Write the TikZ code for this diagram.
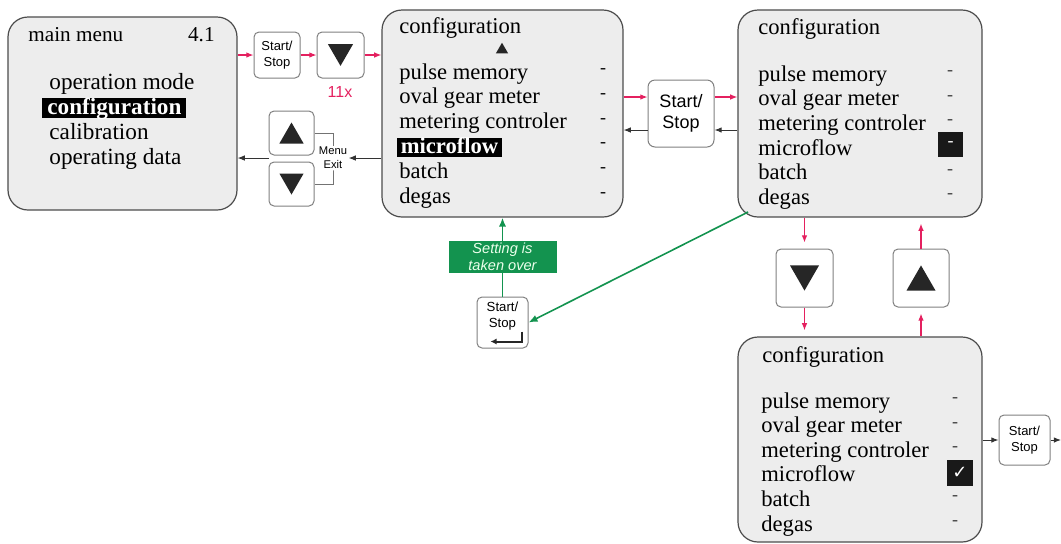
\documentclass[tikz,border=0pt]{standalone}
\usepackage{fontspec}
\setmainfont{Liberation Serif}
\setsansfont{Liberation Sans}
\newfontfamily\symfont{DejaVu Sans}
\usetikzlibrary{shapes.geometric, arrows.meta, positioning}

\begin{document}
\begin{tikzpicture}[x=0.5pt, y=-0.5pt,
  panel/.style={draw=black!70, fill=black!7, line width=0.6pt, rounded corners=10pt, inner sep=0pt},
  btn/.style={draw=black!50, fill=white, line width=0.5pt, rounded corners=2.5pt, inner sep=0pt, align=center, font=\sffamily\fontsize{6.5}{8.2}\selectfont},
  item/.style={anchor=base west, inner sep=0pt, font=\fontsize{11.3}{13}\selectfont},
  hilite/.style={item, fill=black, text=white, font=\bfseries\fontsize{11.3}{13}\selectfont, text height=7pt, text depth=1.5pt, inner xsep=1.7pt, inner ysep=0.5pt},
  dashmark/.style={inner sep=0pt, font=\fontsize{9}{10}\selectfont},
  tridown/.style={regular polygon, regular polygon sides=3, shape border rotate=180, fill=black!85, inner sep=0pt, minimum size=#1, yshift=0.125*#1},
  triup/.style={regular polygon, regular polygon sides=3, fill=black!85, inner sep=0pt, minimum size=#1, yshift=-0.125*#1},
  tip/.style={-{Latex[length=3.6pt, width=2.8pt]}},
  redarrow/.style={draw=menured, line width=0.6pt, tip},
  blkarrow/.style={draw=black!80, line width=0.5pt, tip},
  grnarrow/.style={draw=setgreen, line width=0.8pt, -{Latex[length=4.5pt, width=3.6pt]}}]
  \definecolor{menured}{HTML}{E4205F}
  \definecolor{setgreen}{HTML}{13934F}

  \useasboundingbox (0,0) rectangle (1061,543);

  % main menu
  \node[panel, minimum width=114.5pt, minimum height=96.5pt] (menu) at (122.5,113.5) {};
  \node[item, font=\fontsize{10.6}{12}\selectfont] (mtitle) at (28,41) {main menu};
  \node[item, anchor=base east, font=\fontsize{10.6}{12}\selectfont] (mnum) at (215,41) {4.1};
  \node[item, font=\fontsize{11.6}{13}\selectfont] (m-op) at (49,89) {operation mode};
  \node[hilite, font=\bfseries\fontsize{11.6}{13}\selectfont, text height=7.9pt, text depth=1.1pt, inner xsep=2.5pt] (m-cf) at (42,114.5) {configuration};
  \node[item, font=\fontsize{11.6}{13}\selectfont] (m-ca) at (49,139) {calibration};
  \node[item, font=\fontsize{11.6}{13}\selectfont] (m-od) at (49,164) {operating data};

  % keys between main menu and configuration
  \node[btn, minimum width=23pt, minimum height=23pt] (ssA) at (277,55) {Start/\\Stop};
  \node[btn, minimum width=23.5pt, minimum height=23pt] (dnA) at (340.5,55) {};
  \node[tridown=14.5pt] (dnA-t) at (dnA) {};
  \node[text=menured, font=\sffamily\fontsize{8}{9}\selectfont] (cnt) at (340,92) {11x};
  \node[btn, minimum width=22.5pt, minimum height=22pt] (upB) at (291.5,133) {};
  \node[triup=14pt] (upB-t) at (upB) {};
  \node[btn, minimum width=22.5pt, minimum height=22pt] (dnB) at (291.5,184) {};
  \node[tridown=14pt] (dnB-t) at (dnB) {};
  \coordinate (brk) at (333,158);
  \draw[black!55, line width=0.5pt] (upB.east) -| (brk) |- (dnB.east);
  \node[fill=white, inner sep=0.6pt, align=center, font=\sffamily\fontsize{5.6}{7}\selectfont] (mex) at (brk) {Menu\\Exit};
  \coordinate (gap) at (269,158);

  % configuration, microflow selected
  \node[panel, minimum width=120.5pt, minimum height=103.5pt] (cfgA) at (502.5,113.5) {};
  \node[item] (cA-title) at (399,33) {configuration};
  \node[triup=7pt] (cA-up) at (502,48) {};
  \foreach \t/\i in {pulse memory/0, oval gear meter/1, metering controler/2, batch/4, degas/5}
    \node[item] (cA-\i) at (399,79+24.8*\i) {\t};
  \node[hilite] (cA-3) at (397,153.4) {microflow};
  \foreach \i in {0,...,5}
    \node[dashmark] (dA-\i) at (603,71+24.8*\i) {-};

  \draw[redarrow] (menu.east |- ssA) -- (ssA.west);
  \draw[redarrow] (ssA.east) -- (dnA.west);
  \draw[redarrow] (dnA.east) -- (cfgA.west |- dnA);
  \draw[blkarrow] (cfgA.west |- mex) -- (mex.east);
  \draw[blkarrow] (gap) -- (menu.east |- gap);

  % start/stop between the two top panels
  \node[btn, minimum width=33pt, minimum height=33.5pt, rounded corners=3.5pt, font=\sffamily\fontsize{9}{10.5}\selectfont] (ssC) at (681,113.5) {Start/\\Stop};
  \coordinate (rowR) at (0,97);
  \coordinate (rowB) at (0,130);

  % configuration, value open
  \node[panel, minimum width=122pt, minimum height=103.5pt] (cfgB) at (860,113.5) {};
  \node[item] (cB-title) at (758,34) {configuration};
  \foreach \t [count=\i from 0] in {pulse memory, oval gear meter, metering controler, microflow, batch, degas}
    \node[item] (cB-\i) at (758,81+24.7*\i) {\t};
  \foreach \i in {0,1,2,4,5}
    \node[dashmark, text=black!75] (dB-\i) at (950,73+24.7*\i) {-};
  \node[fill=black!90, minimum size=12.5pt, inner sep=0pt, text=white, font=\fontsize{9}{10}\selectfont] (cB-sel) at (950.5,144) {-};

  \draw[redarrow] (cfgA.east |- rowR) -- (ssC.west |- rowR);
  \draw[redarrow] (ssC.east |- rowR) -- (cfgB.west |- rowR);
  \draw[blkarrow] (cfgB.west |- rowB) -- (ssC.east |- rowB);
  \draw[blkarrow] (ssC.west |- rowB) -- (cfgA.east |- rowB);

  % configuration, value ticked
  \node[panel, minimum width=122pt, minimum height=102.5pt] (cfgC) at (860,439.5) {};
  \node[item] (cC-title) at (762,362) {configuration};
  \foreach \t [count=\i from 0] in {pulse memory, oval gear meter, metering controler, microflow, batch, degas}
    \node[item] (cC-\i) at (761,408+24.6*\i) {\t};
  \foreach \i in {0,1,2,4,5}
    \node[dashmark, text=black!75] (dC-\i) at (955,400+24.6*\i) {-};
  \node[fill=black!90, minimum size=13pt, inner sep=0pt, text=white, font=\symfont\fontsize{9}{10}\selectfont] (cC-sel) at (960,473) {✓};

  % up / down keys
  \node[btn, minimum width=28.5pt, minimum height=29pt] (dnD) at (804.5,278) {};
  \node[tridown=16.75pt] (dnD-t) at (dnD) {};
  \node[btn, minimum width=28pt, minimum height=29pt] (upD) at (921,278) {};
  \node[triup=16.75pt] (upD-t) at (upD) {};
  \draw[redarrow, shorten >=3pt] (cfgB.south -| dnD) -- (dnD.north);
  \draw[redarrow, shorten >=3pt] (dnD.south) -- (cfgC.north -| dnD);
  \draw[redarrow, shorten >=3pt] (cfgC.north -| upD) -- (upD.south);
  \draw[redarrow, shorten >=3pt] (upD.north) -- (cfgB.south -| upD);

  \node[btn, minimum width=25.5pt, minimum height=25pt] (ssE) at (1024.5,440) {Start/\\Stop};
  \coordinate (edge) at (1061,440);
  \draw[blkarrow] (cfgC.east |- ssE) -- (ssE.west);
  \draw[blkarrow] (ssE.east) -- (edge);

  % confirm with enter
  \node[btn, minimum width=25.5pt, minimum height=25.5pt] (ssF) at (502.5,322.5) {};
  \node[align=center, inner sep=0pt, font=\sffamily\fontsize{6.6}{8.2}\selectfont] (ssF-txt) at (502.5,316) {Start/\\Stop};
  \draw[black!85, line width=1pt, -{Latex[length=3pt, width=3pt]}] ([xshift=9.5pt, yshift=-4.5pt]ssF.center) -- ++(0,-5pt) -- ++(-15.5pt,0);
  \node[fill=setgreen, text=white!92!green, align=center, inner sep=0pt, minimum width=54pt, minimum height=16pt, font=\sffamily\itshape\fontsize{7.3}{8.5}\selectfont] (taken) at (502.5,257) {Setting is\\taken over};
  \coordinate (gstart) at (748,212);
  \draw[setgreen, line width=0.8pt] (ssF.north) -- (taken.south);
  \draw[grnarrow] (taken.north) -- (taken.north |- cfgA.south);
  \draw[grnarrow] (gstart) -- (ssF.east);
\end{tikzpicture}
\end{document}
